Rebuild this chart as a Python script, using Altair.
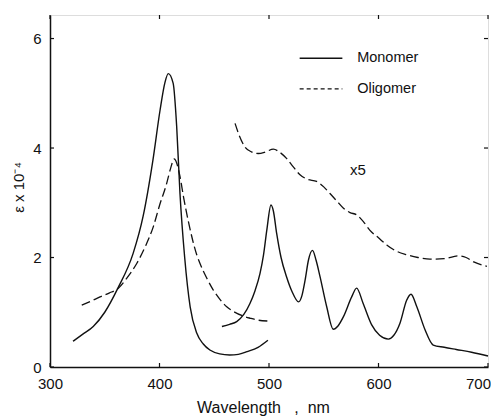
import altair as alt
import pandas as pd

# Monomer, Soret region
mono_soret_wl = [321, 330, 339.5, 350, 362, 376, 385, 394, 400.5, 405, 408, 412.5, 415.7, 418.7, 423, 428, 434, 440, 446, 455, 464, 472, 480, 490, 499]
mono_soret_ep = [0.47, 0.60, 0.74, 1.00, 1.44, 2.08, 2.75, 3.78, 4.69, 5.20, 5.36, 5.18, 4.39, 3.17, 2.00, 1.10, 0.62, 0.42, 0.31, 0.24, 0.22, 0.23, 0.28, 0.36, 0.49]
# Monomer, Q-band region
mono_q_wl = [457, 464, 470.5, 477, 482.6, 487, 491.8, 495, 498, 501.8, 504, 507, 511, 516, 521, 527, 530, 533, 536, 539.7, 543, 546.6, 552.7, 558.7, 563, 568, 575.5, 580, 586, 593.8, 601, 609, 614, 619.6, 625.7, 629.7, 635, 642.5, 650, 660, 671, 685, 700]
mono_q_ep = [0.74, 0.78, 0.83, 0.96, 1.16, 1.38, 1.71, 2.05, 2.50, 2.96, 2.85, 2.44, 2.00, 1.65, 1.38, 1.19, 1.30, 1.59, 1.95, 2.13, 1.95, 1.65, 1.10, 0.69, 0.75, 0.92, 1.28, 1.44, 1.16, 0.77, 0.58, 0.51, 0.58, 0.80, 1.22, 1.33, 1.10, 0.68, 0.40, 0.36, 0.32, 0.27, 0.20]
# Oligomer, Soret region
olig_soret_wl = [329, 337, 345.7, 354, 362.4, 370, 379.2, 387, 394.3, 400, 406.5, 410, 413.5, 418.7, 422, 427, 434, 437, 443, 449, 455, 461.4, 468, 476.5, 483, 488.8, 498.5]
olig_soret_ep = [1.13, 1.20, 1.28, 1.35, 1.44, 1.62, 1.89, 2.20, 2.56, 2.95, 3.35, 3.62, 3.80, 3.48, 3.10, 2.60, 2.05, 1.89, 1.63, 1.41, 1.24, 1.10, 1.01, 0.93, 0.89, 0.86, 0.84]
# Oligomer, visible region (x5)
olig_vis_wl = [469, 473, 478, 484, 490.2, 497, 504, 510, 516, 522, 528.3, 535, 543.5, 550, 555.7, 562, 568, 574, 580, 586, 592, 600, 607.5, 616, 625.7, 636, 647, 660, 673, 680, 687, 699]
olig_vis_ep = [4.45, 4.22, 4.02, 3.93, 3.90, 3.93, 3.98, 3.92, 3.81, 3.66, 3.51, 3.43, 3.39, 3.29, 3.17, 3.03, 2.90, 2.82, 2.78, 2.66, 2.50, 2.36, 2.23, 2.12, 2.05, 2.00, 1.97, 1.98, 2.03, 2.00, 1.92, 1.84]

x_ticks = [300, 400, 500, 600, 700]
y_ticks = [0, 2, 4, 6]

legend_names = ["Monomer", "Oligomer"]
legend_y = [5.64, 5.08]
legend_x0 = 528
legend_x1 = 567
legend_tx = 580.5

note_text = "x5"
note_x = 574
note_y = 3.6

x_title = "Wavelength\u00a0\u00a0\u00a0,\u00a0\u00a0nm"
y_title = "ε x 10⁻⁴"

rows = []
for seg, wl, ep, kind in [
    ("ms", mono_soret_wl, mono_soret_ep, "Monomer"),
    ("mq", mono_q_wl, mono_q_ep, "Monomer"),
    ("os", olig_soret_wl, olig_soret_ep, "Oligomer"),
    ("ov", olig_vis_wl, olig_vis_ep, "Oligomer"),
]:
    for w, e in zip(wl, ep):
        rows.append({"seg": seg, "wl": w, "eps": e, "kind": kind})
df = pd.DataFrame(rows)

xs = alt.Scale(domain=[300, 700], nice=False)
ys = alt.Scale(domain=[0, 6.43], nice=False)
FONT = "Liberation Sans"

base_x = alt.X("wl:Q", scale=xs,
               axis=alt.Axis(values=x_ticks, title=x_title, grid=False,
                             tickSize=0, labelPadding=9, labelFontSize=15, labelFont=FONT,
                             labelFlush=False, labelOverlap=False,
                             labelOffset=alt.condition("datum.value == 700", alt.value(-10), alt.value(0)),
                             labelColor="#111", titleFont=FONT, titleFontSize=16,
                             titleFontWeight="normal", titleColor="#111", titlePadding=8,
                             titleX=213, domainColor="#111", domainWidth=1.5))
base_y = alt.Y("eps:Q", scale=ys,
               axis=alt.Axis(values=y_ticks, title=y_title, grid=False,
                             tickSize=0, labelPadding=9, labelFontSize=15, labelFont=FONT,
                             labelFlush=False,
                             labelColor="#111", titleFont=FONT, titleFontSize=15,
                             titleFontWeight="normal", titleColor="#111", titlePadding=6,
                             titleY=172, domainColor="#111", domainWidth=1.5))

mono = alt.Chart(df[df.kind == "Monomer"]).mark_line(
    color="#111", strokeWidth=1.4, interpolate="monotone"
).encode(x=base_x, y=base_y, detail="seg:N")

olig = alt.Chart(df[df.kind == "Oligomer"]).mark_line(
    color="#111", strokeWidth=1.3, strokeDash=[9, 4], interpolate="monotone"
).encode(x="wl:Q", y="eps:Q", detail="seg:N")

# axis ticks (inward) on four sides
xt = pd.DataFrame({"v": x_ticks})
yt = pd.DataFrame({"v": y_ticks})
tick_b = alt.Chart(xt).mark_rule(color="#111", strokeWidth=1.2).encode(
    x=alt.X("v:Q", scale=xs), y=alt.value(352), y2=alt.value(348))
tick_t = alt.Chart(xt).mark_rule(color="#111", strokeWidth=1.2).encode(
    x=alt.X("v:Q", scale=xs), y=alt.value(0), y2=alt.value(4))
tick_l = alt.Chart(yt).mark_rule(color="#111", strokeWidth=1.2).encode(
    y=alt.Y("v:Q", scale=ys), x=alt.value(0), x2=alt.value(4))
tick_r = alt.Chart(yt).mark_rule(color="#111", strokeWidth=1.2).encode(
    y=alt.Y("v:Q", scale=ys), x=alt.value(438), x2=alt.value(434))

leg = pd.DataFrame({"name": legend_names, "y": legend_y,
                    "x0": [legend_x0] * 2, "x1": [legend_x1] * 2, "tx": [legend_tx] * 2})
leg_solid = alt.Chart(leg[leg.name == "Monomer"]).mark_rule(color="#111", strokeWidth=1.4).encode(
    x=alt.X("x0:Q", scale=xs), x2="x1:Q", y=alt.Y("y:Q", scale=ys))
leg_dash = alt.Chart(leg[leg.name == "Oligomer"]).mark_rule(
    color="#111", strokeWidth=1.3, strokeDash=[4, 3]).encode(
    x=alt.X("x0:Q", scale=xs), x2="x1:Q", y=alt.Y("y:Q", scale=ys))
leg_text = alt.Chart(leg).mark_text(align="left", baseline="middle", font=FONT,
                                    fontSize=14.5, color="#111").encode(
    x=alt.X("tx:Q", scale=xs), y=alt.Y("y:Q", scale=ys), text="name:N")

note = alt.Chart(pd.DataFrame({"x": [note_x], "y": [note_y], "t": [note_text]})).mark_text(
    align="left", baseline="middle", font=FONT, fontSize=15, color="#111").encode(
    x=alt.X("x:Q", scale=xs), y=alt.Y("y:Q", scale=ys), text="t:N")

chart = alt.layer(mono, olig, tick_b, tick_t, tick_l, tick_r,
                  leg_solid, leg_dash, leg_text, note).properties(
    width=438, height=352,
    autosize=alt.AutoSizeParams(type="none"),
    padding={"left": 42, "top": 7, "right": 3, "bottom": 50},
).configure_view(stroke="#111", strokeWidth=1.5).configure(background="white")

chart.save("out.html", embed_options={"renderer": "svg", "actions": False})
